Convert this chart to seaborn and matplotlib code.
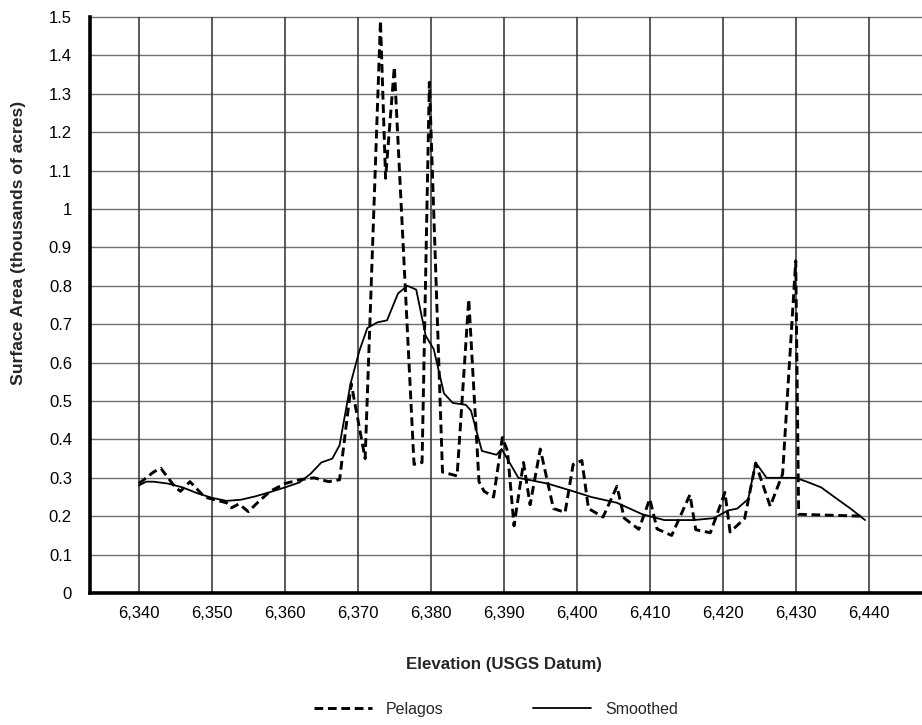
import matplotlib
matplotlib.use("Agg")
from matplotlib import pyplot as plt
from matplotlib.ticker import FuncFormatter
import seaborn as sns
import numpy as np

# Pelagos (dashed) - elevation / surface area (thousands of acres)
pelagos_elev = [6340, 6341, 6342, 6343, 6344, 6345, 6345.7, 6347, 6348, 6349,
                6350, 6351, 6352, 6352.7, 6353.7, 6355, 6356.5, 6358, 6360, 6362,
                6364, 6366, 6367.5, 6369.1, 6371, 6373.1, 6373.8, 6375, 6377.7, 6378.8,
                6379.8, 6381.6, 6383.6, 6385.2, 6386.6, 6387.3, 6388.6, 6389.8, 6390.5, 6391.4,
                6392.7, 6393.6, 6395, 6396.8, 6398.4, 6399.5, 6400.7, 6401.6, 6403.6, 6405.5,
                6406.5, 6408.5, 6410, 6411, 6413, 6415.5, 6416.3, 6418.3, 6420.3, 6421,
                6423, 6424.5, 6426.5, 6428.2, 6430, 6430.4, 6439.5]
pelagos_area = [0.285, 0.30, 0.315, 0.325, 0.30, 0.275, 0.265, 0.29, 0.27, 0.25,
                0.245, 0.24, 0.235, 0.222, 0.232, 0.212, 0.24, 0.265, 0.285, 0.295,
                0.30, 0.29, 0.295, 0.545, 0.35, 1.49, 1.08, 1.37, 0.335, 0.34,
                1.33, 0.315, 0.305, 0.765, 0.29, 0.265, 0.25, 0.405, 0.37, 0.175,
                0.34, 0.23, 0.375, 0.22, 0.21, 0.335, 0.345, 0.22, 0.198, 0.278,
                0.195, 0.166, 0.245, 0.167, 0.15, 0.256, 0.165, 0.157, 0.262, 0.159,
                0.194, 0.338, 0.226, 0.31, 0.865, 0.205, 0.20]

# Smoothed (solid)
smooth_elev = [6340, 6341, 6342, 6344, 6346, 6348, 6350, 6352, 6354, 6356,
               6358, 6360, 6362, 6363.5, 6365, 6366.5, 6367.5, 6369, 6370.2, 6371.3,
               6372.7, 6374, 6375.5, 6376.8, 6378, 6379.3, 6380.4, 6381.8, 6383, 6384.8,
               6385.5, 6387, 6389, 6389.7, 6392, 6396, 6399.5, 6402, 6405.5, 6409,
               6412, 6416, 6418.8, 6420.7, 6422, 6423.5, 6424.5, 6426, 6428, 6430,
               6431.5, 6433.5, 6435.3, 6437.5, 6439.5]
smooth_area = [0.28, 0.29, 0.29, 0.285, 0.275, 0.26, 0.248, 0.24, 0.243, 0.252,
               0.263, 0.275, 0.288, 0.31, 0.34, 0.35, 0.385, 0.545, 0.63, 0.69,
               0.705, 0.71, 0.78, 0.80, 0.79, 0.67, 0.635, 0.52, 0.495, 0.49,
               0.475, 0.37, 0.36, 0.375, 0.30, 0.285, 0.265, 0.25, 0.235, 0.205,
               0.19, 0.19, 0.195, 0.215, 0.22, 0.245, 0.34, 0.30, 0.30, 0.30,
               0.29, 0.275, 0.25, 0.22, 0.19]

x_ticks = list(range(6340, 6441, 10))
y_ticks = [round(0.1 * i, 1) for i in range(0, 16)]

sns.set_theme(style="white")
plt.rcParams['font.family'] = ['Liberation Sans', 'DejaVu Sans']

fig = plt.figure(figsize=(9.22, 7.25), dpi=100)
ax = fig.add_axes([0.0976, 0.182, 0.9024, 0.7946])

# grid
for v in y_ticks[1:]:
    ax.axhline(v, color="#707070", linewidth=1.0, zorder=1, clip_on=False)
for v in x_ticks:
    ax.axvline(v, color="#2e2e2e", linewidth=1.1, zorder=1)

sns.lineplot(x=pelagos_elev, y=pelagos_area, ax=ax, color="black", linewidth=2.1,
             linestyle=(0, (3, 1.6)), sort=False, label="Pelagos", zorder=3)
sns.lineplot(x=smooth_elev, y=smooth_area, ax=ax, color="black", linewidth=1.3,
             sort=False, label="Smoothed", zorder=3)

ax.set_xlim(6333.3, 6447.3)
ax.set_ylim(0, 1.5)
ax.set_xticks(x_ticks)
ax.set_yticks(y_ticks)
ax.xaxis.set_major_formatter(FuncFormatter(lambda v, p: f"{int(round(v)):,}"))
ax.yaxis.set_major_formatter(FuncFormatter(lambda v, p: f"{v:g}"))
ax.tick_params(axis="both", length=0, labelsize=12, colors="black")
ax.tick_params(axis="y", pad=13)
ax.tick_params(axis="x", pad=9)

for s in ["top", "right"]:
    ax.spines[s].set_visible(False)
for s in ["left", "bottom"]:
    ax.spines[s].set_color("black")
    ax.spines[s].set_linewidth(2.6)

ax.set_xlabel("")
ax.set_ylabel("")
fig.text(0.547, 0.083, "Elevation (USGS Datum)", ha="center", va="center",
         fontsize=12.2, fontweight="bold")
fig.text(0.020, 0.665, "Surface Area (thousands of acres)", ha="center", va="center",
         rotation=90, fontsize=12.6, fontweight="bold")

ax.legend(loc="center", bbox_to_anchor=(0.538, 0.022), bbox_transform=fig.transFigure,
          ncol=2, frameon=False, fontsize=11.5, handlelength=3.6, handletextpad=0.9,
          columnspacing=5.6)

fig.savefig("out.png", dpi=100)
plt.close(fig)
